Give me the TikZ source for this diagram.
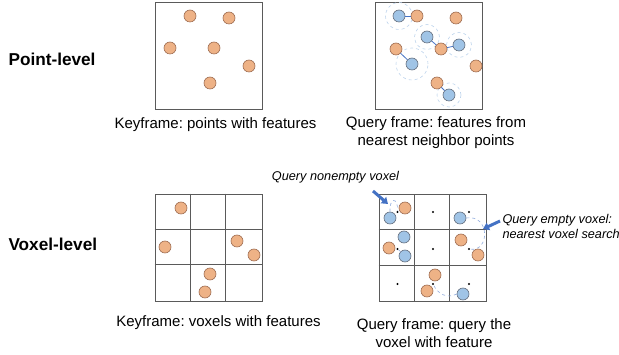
\documentclass[tikz,border=0pt]{standalone}
\usepackage{fontspec}
\setmainfont{Liberation Sans}
\usetikzlibrary{arrows.meta}

\definecolor{ptorange}{RGB}{238,178,134}
\definecolor{ptbrown}{RGB}{158,108,80}
\definecolor{qblue}{RGB}{160,196,230}
\definecolor{qgray}{RGB}{100,110,125}
\definecolor{linkblue}{RGB}{68,114,196}
\definecolor{ringblue}{RGB}{190,212,236}
\definecolor{framegray}{RGB}{90,90,90}

\begin{document}
\frenchspacing
\begin{tikzpicture}[x=1pt, y=-1pt,
  %% Square frame of each scene
  framebox/.style={draw=framegray, line width=0.9pt, minimum size=107pt,
                   inner sep=0pt},
  %% Inner voxel grid lines
  gridline/.style={draw=framegray, line width=0.9pt},
  %% Keyframe point (orange) and query point (blue)
  kpt/.style={circle, draw=ptbrown, fill=ptorange, line width=0.6pt,
              minimum size=12pt, inner sep=0pt},
  qpt/.style={circle, draw=qgray, fill=qblue, line width=0.6pt,
              minimum size=12pt, inner sep=0pt},
  %% Dashed search radius round a query point
  searchring/.style={circle, draw=ringblue, dashed, line width=0.6pt,
                     inner sep=0pt},
  %% Query -> nearest neighbour link
  nnlink/.style={draw=linkblue, line width=0.8pt},
  %% Query -> voxel feature (dashed curve)
  searcharc/.style={draw=linkblue!60, dashed, line width=0.6pt},
  %% Voxel centre
  ctr/.style={circle, fill=black, inner sep=0pt, minimum size=2.2pt},
  %% Thick callout arrow
  pointer/.style={-{Triangle[length=6pt,width=8pt]}, line width=3pt,
                  draw=linkblue},
  caption/.style={font=\fontsize{15}{18}\selectfont, align=center},
  rowlabel/.style={font=\fontsize{17.2}{20}\selectfont\bfseries, anchor=west},
  note/.style={font=\fontsize{12.7}{15}\selectfont\itshape, align=left}
]
\useasboundingbox (0,0) rectangle (619,355);

%% ── Row labels ───────────────────────────────────────────────────────────
\node[rowlabel] (ptlevel)  at (5,59)  {Point-level};
\node[rowlabel] (voxlevel) at (5,244) {Voxel-level};

%% ── Point-level: keyframe ────────────────────────────────────────────────
\node[framebox] (kfpts) at (209,55.5) {};
\node[kpt] (kp1) at (190,16) {};
\node[kpt] (kp2) at (229,18) {};
\node[kpt] (kp3) at (170,48) {};
\node[kpt] (kp4) at (214,48) {};
\node[kpt] (kp5) at (249,66) {};
\node[kpt] (kp6) at (210,83) {};

%% ── Point-level: query frame ─────────────────────────────────────────────
\node[framebox] (qfpts) at (428.5,55.5) {};
\node[searchring, minimum size=27pt] (qr1) at (399,16) {};
\node[searchring, minimum size=25pt] (qr2) at (427,37) {};
\node[searchring, minimum size=25pt] (qr3) at (459,45) {};
\node[searchring, minimum size=32pt] (qr4) at (412,64) {};
\node[searchring, minimum size=24pt] (qr5) at (449,95) {};

\node[kpt] (qk1) at (417,16) {};
\node[kpt] (qk2) at (456,18) {};
\node[kpt] (qk3) at (396,49) {};
\node[kpt] (qk4) at (441,49) {};
\node[kpt] (qk5) at (476,66) {};
\node[kpt] (qk6) at (437,83) {};

\node[qpt] (qn1) at (399,16) {};
\node[qpt] (qn2) at (427,37) {};
\node[qpt] (qn3) at (459,45) {};
\node[qpt] (qn4) at (412,64) {};
\node[qpt] (qn5) at (449,95) {};

\draw[nnlink] (qn1) -- (qk1);
\draw[nnlink] (qn2) -- (qk4);
\draw[nnlink] (qn3) -- (qk4);
\draw[nnlink] (qn4) -- (qk3);
\draw[nnlink] (qn5) -- (qk6);

%% ── Voxel-level: keyframe ────────────────────────────────────────────────
\node[framebox] (kfvox) at (208.5,247.5) {};
\node[framebox] (qfvox) at (432.5,248) {};
\foreach \f in {kfvox,qfvox}
  \foreach \i in {1,2} {
    \draw[gridline] ([xshift=\i*35.67pt]\f.north west)
                 -- ([xshift=\i*35.67pt]\f.south west);
    \draw[gridline] ([yshift=-\i*35.67pt]\f.north west)
                 -- ([yshift=-\i*35.67pt]\f.north east);
  }

\node[kpt] (kv1) at (181,208) {};
\node[kpt] (kv2) at (165,247) {};
\node[kpt] (kv3) at (237,241) {};
\node[kpt] (kv4) at (254,255) {};
\node[kpt] (kv5) at (210,274) {};
\node[kpt] (kv6) at (205,292) {};

%% ── Voxel-level: query frame ─────────────────────────────────────────────
%%    voxel centres c<row><col>
\foreach \r/\y in {1/212, 2/249, 3/284}
  \foreach \c/\x in {1/397.5, 2/433, 3/469}
    \node[ctr] (c\r\c) at (\x,\y) {};

\node[kpt] (vk1) at (405,208) {};
\node[kpt] (vk2) at (389,248) {};
\node[kpt] (vk3) at (461,240) {};
\node[kpt] (vk4) at (478,255) {};
\node[kpt] (vk5) at (435,275) {};
\node[kpt] (vk6) at (427,291) {};

\node[qpt] (vq1) at (390,218) {};
\node[qpt] (vq2) at (460,218) {};
\node[qpt] (vq3) at (404,237) {};
\node[qpt] (vq4) at (405,256) {};
\node[qpt] (vq5) at (463,294) {};

\draw[searcharc] (vq1.north) .. controls (389,198) and (398,196) .. (c11);
\draw[searcharc] (vq2.east) .. controls (490,214) and (490,252) .. (c23);
\draw[searcharc] (vq4.north west) -- (c21);
\draw[searcharc] (vq5.west) .. controls (447,299) and (438,294) .. (c32);

%% ── Callouts ─────────────────────────────────────────────────────────────
\node[note] (nonempty) at (335.5,177) {Query nonempty voxel};
\coordinate (ne-tail) at (373,191);
\coordinate (ne-tip)  at (388,204);
\draw[pointer] (ne-tail) -- (ne-tip);

\node[note, anchor=west] (empty) at (499,226)
  {Query empty voxel:\\nearest voxel search};
\coordinate (em-tail) at (500,221);
\coordinate (em-tip)  at (483,229);
\draw[pointer] (em-tail) -- (em-tip);

%% ── Captions ─────────────────────────────────────────────────────────────
\node[caption] (capkp) at (215.5,125) {Keyframe: points with features};
\node[caption] (capqp) at (436,133)
  {Query frame: features from\\nearest neighbor points};
\node[caption] (capkv) at (218.5,323) {Keyframe: voxels with features};
\node[caption] (capqv) at (434,333)
  {Query frame: query the\\voxel with feature};

\end{tikzpicture}
\end{document}
